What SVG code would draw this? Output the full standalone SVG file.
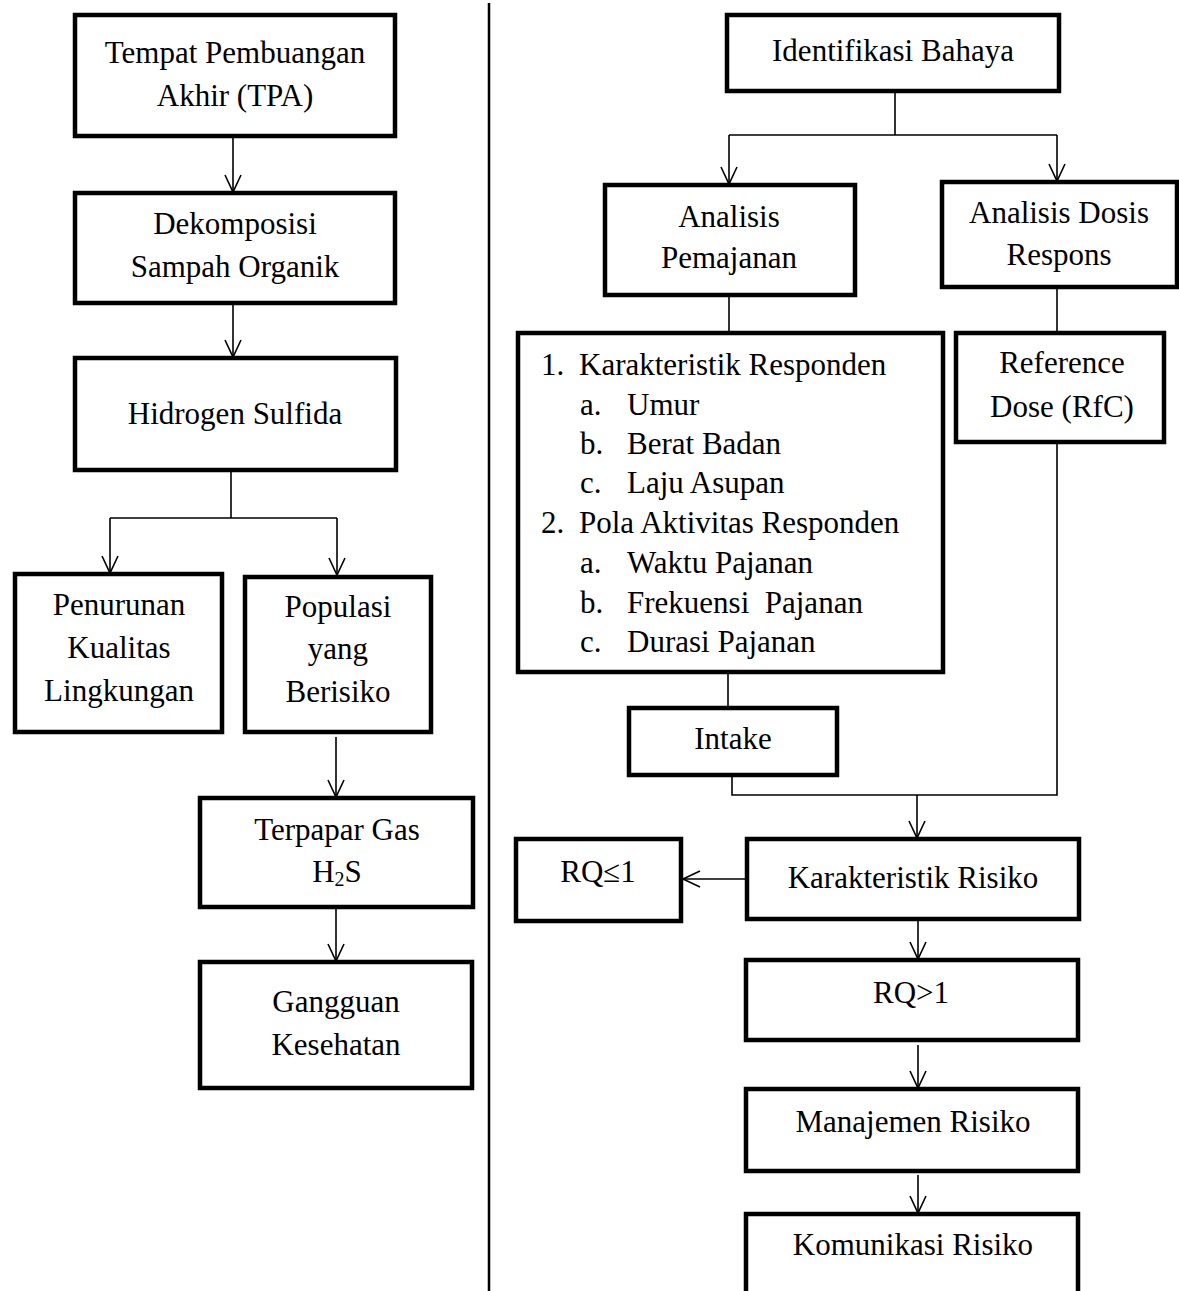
<svg xmlns="http://www.w3.org/2000/svg" width="1179" height="1291" viewBox="0 0 1179 1291">
<style>
.box{fill:#fff;stroke:#000;stroke-width:4.5}
.t{font-family:"Liberation Serif","Times New Roman",serif;font-size:31px;fill:#000;text-anchor:middle}
.l{font-family:"Liberation Serif","Times New Roman",serif;font-size:31px;fill:#000}
.c{fill:none;stroke:#000;stroke-width:1.6}
.a{marker-end:url(#arr)}
</style>
<defs>
<marker id="arr" viewBox="-19 -10 21 20" refX="0" refY="0" markerWidth="21" markerHeight="20" markerUnits="userSpaceOnUse" orient="auto">
<path d="M-17,-8 L0,0 L-17,8" fill="none" stroke="#000" stroke-width="1.6"/>
</marker>
</defs>
<rect width="1179" height="1291" fill="#fff"/>

<g id="connectors">
<path class="c a" d="M233,136 V192"/>
<path class="c a" d="M233,303 V357"/>
<path class="c" d="M231,470 V518 M110,518 H337"/>
<path class="c a" d="M110,518 V573"/>
<path class="c a" d="M337,518 V575"/>
<path class="c a" d="M336,737 V797"/>
<path class="c a" d="M336,907 V961"/>
<path class="c" d="M895,91 V135 M729,135 H1057"/>
<path class="c a" d="M729,135 V184"/>
<path class="c a" d="M1057,135 V181"/>
<path class="c" d="M729,295 V333"/>
<path class="c" d="M1057,287 V333"/>
<path class="c" d="M728,672 V708"/>
<path class="c" d="M732,775 V795 H1057 V442"/>
<path class="c a" d="M917,795 V838"/>
<path class="c a" d="M747,879 H683"/>
<path class="c a" d="M918,919 V959"/>
<path class="c a" d="M918,1045 V1088"/>
<path class="c a" d="M918,1175 V1213"/>
</g>

<g id="divider">
<line x1="489" y1="3" x2="489" y2="1291" stroke="#000" stroke-width="2.5"/>
</g>

<g id="n-tpa">
<rect class="box" x="75" y="15" width="320" height="121"/>
<text class="t" x="235" y="63">Tempat Pembuangan</text>
<text class="t" x="235" y="106">Akhir (TPA)</text>
</g>
<g id="n-dekomposisi">
<rect class="box" x="75" y="193" width="320" height="110"/>
<text class="t" x="235" y="234">Dekomposisi</text>
<text class="t" x="235" y="277">Sampah Organik</text>
</g>
<g id="n-hidrogen">
<rect class="box" x="75" y="358" width="321" height="112"/>
<text class="t" x="235" y="424">Hidrogen Sulfida</text>
</g>
<g id="n-penurunan">
<rect class="box" x="15" y="574" width="207" height="158"/>
<text class="t" x="119" y="615">Penurunan</text>
<text class="t" x="119" y="658">Kualitas</text>
<text class="t" x="119" y="701">Lingkungan</text>
</g>
<g id="n-populasi">
<rect class="box" x="245" y="577" width="186" height="155"/>
<text class="t" x="338" y="617">Populasi</text>
<text class="t" x="338" y="659">yang</text>
<text class="t" x="338" y="702">Berisiko</text>
</g>
<g id="n-terpapar">
<rect class="box" x="200" y="798" width="273" height="109"/>
<text class="t" x="337" y="840">Terpapar Gas</text>
<text class="t" x="337" y="882">H<tspan font-size="20" dy="4">2</tspan><tspan dy="-4">S</tspan></text>
</g>
<g id="n-gangguan">
<rect class="box" x="200" y="962" width="272" height="126"/>
<text class="t" x="336" y="1012">Gangguan</text>
<text class="t" x="336" y="1055">Kesehatan</text>
</g>

<g id="n-identifikasi">
<rect class="box" x="727" y="15" width="332" height="76"/>
<text class="t" x="893" y="61">Identifikasi Bahaya</text>
</g>
<g id="n-pemajanan">
<rect class="box" x="605" y="185" width="250" height="110"/>
<text class="t" x="729" y="227">Analisis</text>
<text class="t" x="729" y="268">Pemajanan</text>
</g>
<g id="n-dosis">
<rect class="box" x="942" y="182" width="235" height="105"/>
<text class="t" x="1059" y="223">Analisis Dosis</text>
<text class="t" x="1059" y="265">Respons</text>
</g>
<g id="n-list">
<rect class="box" x="518" y="333" width="425" height="339"/>
<text class="l" x="541" y="375">1.</text><text class="l" x="579" y="375">Karakteristik Responden</text>
<text class="l" x="580" y="415">a.</text><text class="l" x="627" y="415">Umur</text>
<text class="l" x="580" y="454">b.</text><text class="l" x="627" y="454">Berat Badan</text>
<text class="l" x="580" y="493">c.</text><text class="l" x="627" y="493">Laju Asupan</text>
<text class="l" x="541" y="533">2.</text><text class="l" x="579" y="533">Pola Aktivitas Responden</text>
<text class="l" x="580" y="573">a.</text><text class="l" x="627" y="573">Waktu Pajanan</text>
<text class="l" x="580" y="613">b.</text><text class="l" x="627" y="613">Frekuensi&#160; Pajanan</text>
<text class="l" x="580" y="652">c.</text><text class="l" x="627" y="652">Durasi Pajanan</text>
</g>
<g id="n-reference">
<rect class="box" x="956" y="333" width="208" height="109"/>
<text class="t" x="1062" y="373">Reference</text>
<text class="t" x="1062" y="417">Dose (RfC)</text>
</g>
<g id="n-intake">
<rect class="box" x="629" y="708" width="208" height="67"/>
<text class="t" x="733" y="749">Intake</text>
</g>
<g id="n-karakteristik-risiko">
<rect class="box" x="747" y="839" width="332" height="80"/>
<text class="t" x="913" y="888">Karakteristik Risiko</text>
</g>
<g id="n-rq-le-1">
<rect class="box" x="516" y="839" width="165" height="82"/>
<text class="t" x="598" y="882">RQ≤1</text>
</g>
<g id="n-rq-gt-1">
<rect class="box" x="746" y="960" width="332" height="80"/>
<text class="t" x="911" y="1003">RQ&gt;1</text>
</g>
<g id="n-manajemen">
<rect class="box" x="746" y="1089" width="332" height="82"/>
<text class="t" x="913" y="1132">Manajemen Risiko</text>
</g>
<g id="n-komunikasi">
<rect class="box" x="746" y="1214" width="332" height="100"/>
<text class="t" x="913" y="1255">Komunikasi Risiko</text>
</g>
</svg>
